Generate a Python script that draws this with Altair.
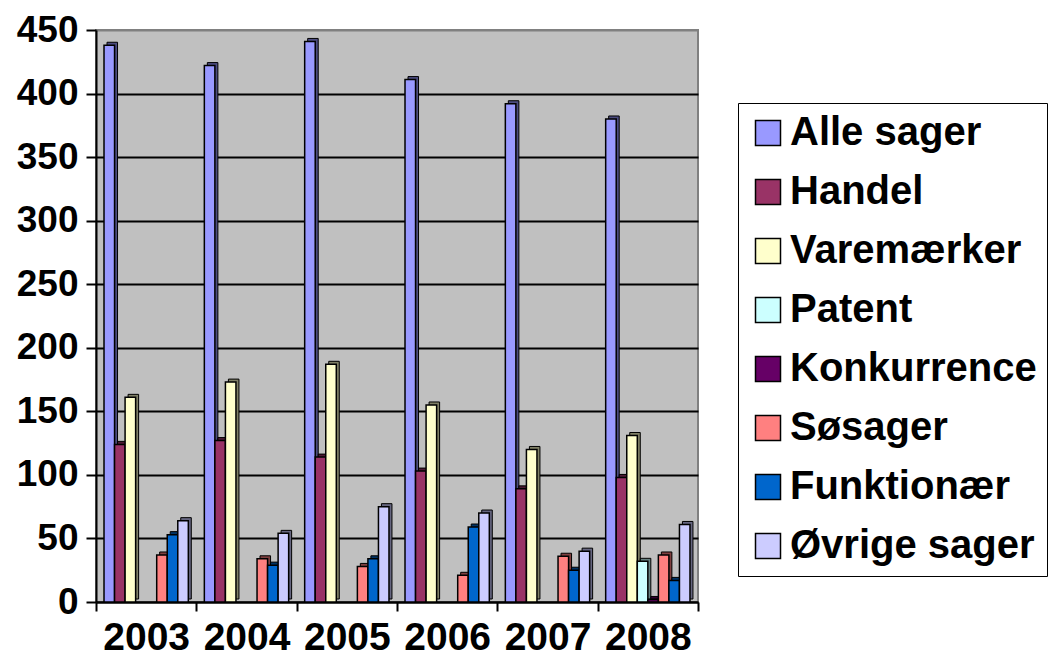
import altair as alt
import pandas as pd

years = ["2003", "2004", "2005", "2006", "2007", "2008"]
series = ["Alle sager", "Handel", "Varemærker", "Patent", "Konkurrence",
          "Søsager", "Funktionær", "Øvrige sager"]
alle = [438, 422, 441, 411, 392, 380]
handel = [124, 127, 114, 103, 89, 98]
varemaerker = [161, 173, 187, 155, 120, 131]
patent = [0, 0, 0, 0, 0, 32]
konkurrence = [0, 0, 0, 0, 0, 2]
sosager = [37, 34, 28, 21, 36, 37]
funktionaer = [53, 29, 34, 59, 25, 17]
ovrige = [64, 54, 75, 70, 40, 61]
colors = ["#9999FF", "#993366", "#FFFFCC", "#CCFFFF", "#660066",
          "#FF8080", "#0066CC", "#CCCCFF"]
side_colors = ["#4C4C80", "#4C1933", "#808066", "#668080", "#330033",
               "#804040", "#003366", "#666680"]

values = [alle, handel, varemaerker, patent, konkurrence, sosager, funktionaer, ovrige]
rows = []
for s, vals in zip(series, values):
    for y, v in zip(years, vals):
        rows.append({"year": y, "series": s, "value": v})
df = pd.DataFrame(rows)

font = "Liberation Sans"

base = alt.Chart(df).transform_filter("datum.value > 0")

x_enc = alt.X("year:N", sort=years,
              scale=alt.Scale(paddingInner=0, paddingOuter=0),
              axis=alt.Axis(title=None, labelAngle=0, labelFont=font, labelFontSize=39,
                            labelFontWeight="bold", labelColor="black",
                            labelBaseline="alphabetic",
                            tickBand="extent", tickSize=9, tickWidth=2, tickColor="black",
                            domainColor="black", domainWidth=2, labelPadding=38))
y_enc = alt.Y("value:Q",
              scale=alt.Scale(domain=[0, 450], nice=False),
              axis=alt.Axis(title=None, values=list(range(0, 451, 50)),
                            labelFont=font, labelFontSize=37, labelFontWeight="bold",
                            labelColor="black", tickSize=10, tickWidth=2, tickColor="black",
                            domainColor="black", domainWidth=2, labelPadding=8,
                            grid=True,
                            gridColor={"condition": {"test": "datum.value >= 450", "value": "#808080"}, "value": "black"},
                            gridWidth=2))

side = base.mark_bar(stroke="black", strokeWidth=1, yOffset=-3, y2Offset=-3).encode(
    x=x_enc,
    xOffset=alt.XOffset("series:N", sort=series,
                        scale=alt.Scale(domain=series, paddingInner=0, paddingOuter=0.76,
                                        range=[3, 103.3])),
    y=y_enc,
    color=alt.Color("series:N", sort=series,
                    scale=alt.Scale(domain=series, range=side_colors), legend=None),
)

bars = base.mark_bar(stroke="black", strokeWidth=1.5).encode(
    x=x_enc,
    xOffset=alt.XOffset("series:N", sort=series,
                        scale=alt.Scale(domain=series, paddingInner=0, paddingOuter=0.76)),
    y=y_enc,
    color=alt.Color("series:N", sort=series,
                    scale=alt.Scale(domain=series, range=colors),
                    legend=alt.Legend(title=None, orient="none", legendX=642, legendY=73,
                                      symbolType="square", symbolSize=625,
                                      symbolStrokeColor="black", symbolStrokeWidth=1.5,
                                      labelFont=font, labelFontSize=40,
                                      labelFontWeight="bold", labelColor="black",
                                      labelOffset=2, rowPadding=19, padding=10,
                                      strokeColor="black", fillColor="white",
                                      labelLimit=400)),
)

chart = alt.layer(side, bars).resolve_scale(color="independent", xOffset="independent").properties(
    width=602, height=572,
    autosize=alt.AutoSizeParams(type="none"),
    padding={"left": 88, "top": 22, "right": 350, "bottom": 54},
).configure_view(fill="#C0C0C0", stroke="#808080", strokeWidth=2)

chart.save("out.html", embed_options={"renderer": "svg", "actions": False})
